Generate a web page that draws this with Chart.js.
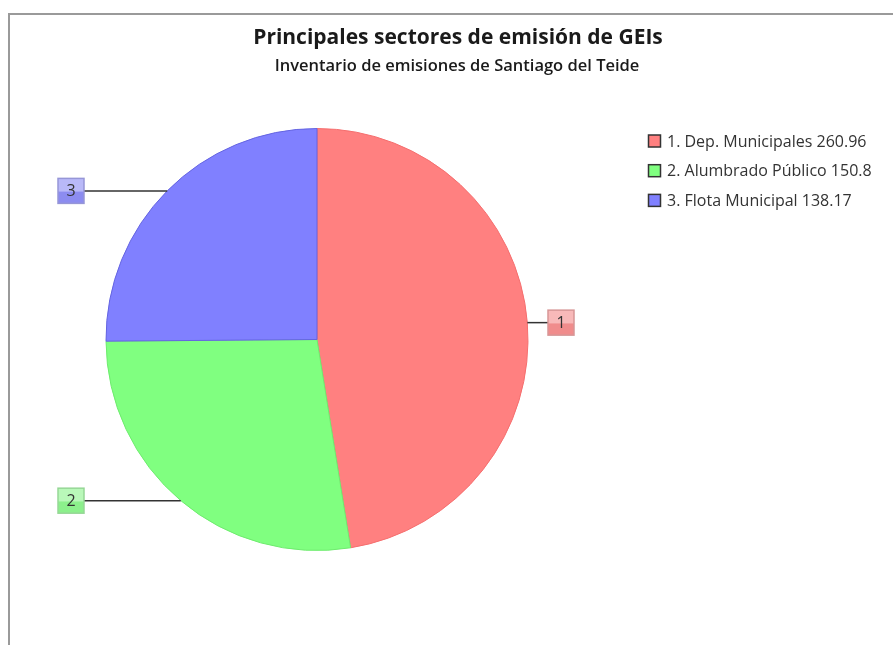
<!DOCTYPE html>
<html>
<head>
<meta charset="utf-8">
<script src="https://cdn.jsdelivr.net/npm/chart.js@4/dist/chart.umd.min.js"></script>
<style>
  html, body { margin: 0; padding: 0; background: #ffffff; }
  #wrap { width: 893px; height: 645px; position: relative; }
</style>
</head>
<body>
<div id="wrap"><canvas id="c" width="893" height="645"></canvas></div>
<script>
const titleText = 'Principales sectores de emisión de GEIs';
const subtitleText = 'Inventario de emisiones de Santiago del Teide';
const categories = ['Dep. Municipales', 'Alumbrado Público', 'Flota Municipal'];
const values = [260.96, 150.8, 138.17];
const sliceColors = ['rgb(255,128,128)', 'rgb(128,255,128)', 'rgb(128,128,255)'];
const sliceBorders = ['rgb(245,110,110)', 'rgb(110,235,110)', 'rgb(100,100,225)'];
const boxTop = ['rgb(248,185,185)', 'rgb(185,248,185)', 'rgb(185,185,248)'];
const boxBottom = ['rgb(240,140,140)', 'rgb(140,240,140)', 'rgb(140,140,240)'];
const boxEdge = ['rgb(215,150,150)', 'rgb(150,215,150)', 'rgb(150,150,215)'];

const FONT = '"Open Sans", "Noto Sans", sans-serif';

const decor = {
  id: 'decor',
  beforeDraw(chart) {
    const ctx = chart.ctx;
    ctx.save();
    ctx.strokeStyle = '#9a9a9a';
    ctx.lineWidth = 2;
    ctx.beginPath();
    ctx.moveTo(9, 645);
    ctx.lineTo(9, 14);
    ctx.lineTo(893, 14);
    ctx.stroke();
    // titles
    ctx.fillStyle = '#1a1a1a';
    ctx.textAlign = 'center';
    ctx.textBaseline = 'middle';
    ctx.font = 'bold 21px ' + FONT;
    ctx.fillText(titleText, 458, 38);
    ctx.font = '600 16.5px ' + FONT;
    ctx.fillText(subtitleText, 457, 66);
    // legend
    ctx.textAlign = 'left';
    ctx.font = '16px ' + FONT;
    for (let i = 0; i < categories.length; i++) {
      const y = 141 + i * 29.7;
      ctx.fillStyle = sliceColors[i];
      ctx.fillRect(648.5, y - 6, 12, 12);
      ctx.strokeStyle = '#333';
      ctx.lineWidth = 1.5;
      ctx.strokeRect(648.5, y - 6, 12, 12);
      ctx.fillStyle = '#333';
      ctx.fillText((i + 1) + '. ' + categories[i] + ' ' + values[i], 667, y + 1);
    }
    ctx.restore();
  },
  afterDatasetsDraw(chart) {
    const ctx = chart.ctx;
    const arcs = chart.getDatasetMeta(0).data;
    ctx.save();
    arcs.forEach((arc, i) => {
      const p = arc.getProps(['x', 'y', 'startAngle', 'endAngle', 'outerRadius'], true);
      const mid = (p.startAngle + p.endAngle) / 2;
      const px = p.x + Math.cos(mid) * p.outerRadius;
      const py = p.y + Math.sin(mid) * p.outerRadius;
      const right = Math.cos(mid) >= 0;
      const bw = 26, bh = 25;
      let bx, lx;
      if (right) { bx = p.x + p.outerRadius + 20; lx = bx; }
      else { bx = p.x - p.outerRadius - 22 - bw; lx = bx + bw; }
      ctx.strokeStyle = '#333';
      ctx.lineWidth = 1.5;
      ctx.beginPath();
      ctx.moveTo(px, py);
      ctx.lineTo(lx, py);
      ctx.stroke();
      const by = py - bh / 2;
      const g = ctx.createLinearGradient(0, by, 0, by + bh);
      g.addColorStop(0, boxTop[i]);
      g.addColorStop(0.5, boxTop[i]);
      g.addColorStop(0.56, boxBottom[i]);
      g.addColorStop(1, boxBottom[i]);
      ctx.fillStyle = g;
      ctx.fillRect(bx, by, bw, bh);
      ctx.strokeStyle = boxEdge[i];
      ctx.lineWidth = 1.5;
      ctx.strokeRect(bx, by, bw, bh);
      ctx.fillStyle = '#333';
      ctx.font = '16px ' + FONT;
      ctx.textAlign = 'center';
      ctx.textBaseline = 'middle';
      ctx.fillText(String(i + 1), bx + bw / 2, py + 1);
    });
    ctx.restore();
  }
};

new Chart(document.getElementById('c'), {
  type: 'pie',
  data: {
    labels: categories,
    datasets: [{
      data: values,
      backgroundColor: sliceColors,
      borderColor: sliceBorders,
      borderWidth: 1,
      hoverOffset: 0,
      offset: 0
    }]
  },
  options: {
    responsive: false,
    animation: false,
    events: [],
    layout: { padding: { left: 105, right: 364, top: 128, bottom: 94 } },
    plugins: {
      legend: { display: false },
      title: { display: false },
      tooltip: { enabled: false }
    }
  },
  plugins: [decor]
});
</script>
</body>
</html>
